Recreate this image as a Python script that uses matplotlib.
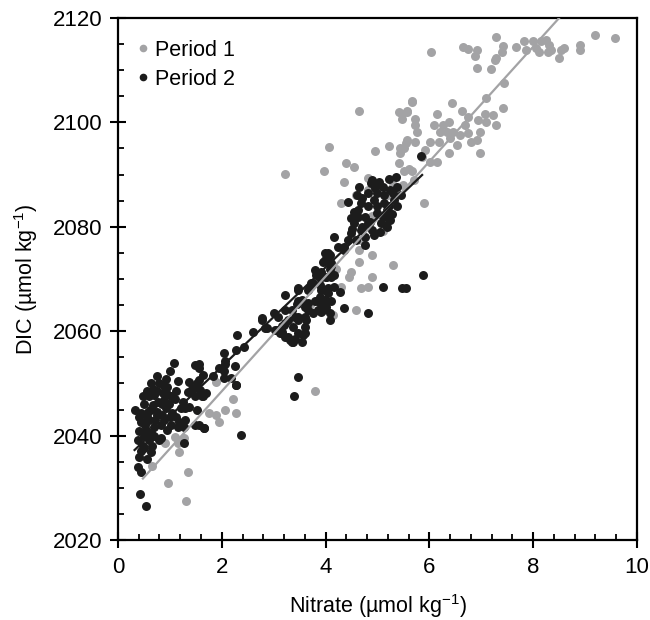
import matplotlib.pyplot as plt
from matplotlib.lines import Line2D
from matplotlib.ticker import MultipleLocator

plt.rcParams['font.family'] = ['Liberation Sans', 'DejaVu Sans']
plt.rcParams['mathtext.default'] = 'regular'

# Period 1 (grey) points: (nitrate, DIC)
period1 = [
    (6.04, 2113.5), (6.65, 2114.5), (6.75, 2114.1), (6.91, 2113.9), (6.88, 2112.8), (7.28, 2116.3),
    (7.42, 2114.7), (7.39, 2113.5), (7.29, 2112.3), (7.26, 2112.0), (6.91, 2110.5), (7.19, 2110.2),
    (7.67, 2114.5), (7.83, 2115.6), (7.86, 2113.9), (7.99, 2115.5), (8.05, 2114.3), (8.15, 2115.5),
    (8.24, 2115.8), (8.31, 2114.8), (8.28, 2113.5), (8.12, 2113.5), (8.34, 2113.9), (8.49, 2112.3),
    (8.59, 2114.3), (8.53, 2113.9), (8.91, 2114.8), (8.91, 2113.9), (9.20, 2116.7), (9.58, 2116.1),
    (7.43, 2107.5), (7.10, 2104.6),
    (6.43, 2103.7), (6.62, 2102.1), (6.75, 2101.1), (7.07, 2101.7), (7.23, 2101.4), (7.42, 2102.7),
    (7.29, 2099.5), (7.10, 2100.1), (6.94, 2100.5), (6.97, 2098.2), (6.91, 2096.6), (6.97, 2094.1),
    (6.81, 2096.3), (6.69, 2099.5), (6.59, 2097.6), (6.53, 2095.7), (6.40, 2097.0), (6.34, 2098.2),
    (6.21, 2098.2), (6.15, 2101.7), (6.18, 2096.3), (6.08, 2099.5), (6.02, 2096.3), (6.27, 2099.5),
    (6.37, 2094.1), (6.15, 2092.5), (5.92, 2094.7), (5.86, 2093.4), (5.73, 2096.3), (5.73, 2099.5),
    (5.67, 2104.0), (5.57, 2102.1), (5.48, 2101.7), (5.76, 2098.2), (5.54, 2096.0), (5.44, 2095.1),
    (5.51, 2090.6), (5.67, 2090.6), (6.02, 2092.5), (6.75, 2098.0), (6.46, 2098.2), (6.37, 2100.1),
    (5.66, 2104.1), (4.65, 2102.1), (5.41, 2101.9), (5.57, 2101.9), (5.48, 2100.6), (5.73, 2100.6),
    (4.06, 2095.2), (4.96, 2094.6), (5.22, 2095.5), (5.57, 2096.6), (5.51, 2095.1), (5.44, 2094.1),
    (4.40, 2092.3), (4.54, 2091.4), (3.21, 2090.1), (3.97, 2090.7), (4.36, 2088.6), (5.41, 2092.3),
    (4.81, 2089.3), (4.59, 2086.1), (4.81, 2087.0), (5.70, 2089.0), (5.89, 2084.5),
    (4.94, 2087.7), (4.30, 2084.5), (5.10, 2079.1), (4.68, 2077.5), (4.65, 2075.6), (4.90, 2074.6),
    (4.65, 2073.3), (5.29, 2072.7), (4.49, 2071.4), (4.46, 2070.4), (4.90, 2070.4), (4.30, 2068.5),
    (4.68, 2068.2), (4.81, 2068.5), (4.59, 2064.1), (4.14, 2063.1), (3.79, 2048.6),
    (1.88, 2050.3), (2.21, 2047.1), (1.76, 2044.3), (1.88, 2043.9), (1.95, 2042.7), (2.07, 2045.0),
    (2.28, 2044.4), (1.09, 2039.8), (1.15, 2038.5), (1.28, 2039.5), (1.18, 2036.9), (0.90, 2038.5),
    (0.66, 2034.2), (1.34, 2033.0), (0.96, 2030.9), (1.32, 2027.5),
    (4.90, 2082.0), (5.20, 2086.0), (5.30, 2088.0), (5.50, 2088.0), (5.60, 2091.0), (3.70, 2065.0),
    (3.30, 2062.0), (4.20, 2072.0),
]

# Period 2 (black) points: (nitrate, DIC)
period2 = [
    (1.08, 2054.0), (1.01, 2052.4), (0.76, 2051.4), (0.64, 2050.1), (0.80, 2050.0), (0.92, 2050.8),
    (0.95, 2049.4), (0.48, 2047.5), (0.60, 2047.5), (0.70, 2047.8), (0.86, 2048.1), (0.89, 2046.8),
    (1.02, 2047.5), (0.32, 2045.0), (0.45, 2044.3), (0.57, 2044.6), (0.67, 2045.9), (0.76, 2044.6),
    (0.92, 2045.2), (1.05, 2044.3), (1.21, 2045.2), (0.45, 2042.7), (0.60, 2043.0), (0.70, 2041.7),
    (0.89, 2043.0), (1.02, 2042.0), (1.18, 2042.7), (0.41, 2040.8), (0.54, 2041.1), (0.64, 2040.5),
    (0.83, 2039.5), (0.95, 2041.1), (1.15, 2041.7), (1.27, 2041.7), (0.38, 2039.2), (0.60, 2039.2),
    (0.80, 2039.2), (0.51, 2037.6), (0.64, 2036.9), (0.41, 2035.9), (0.38, 2034.0), (0.45, 2033.1),
    (0.43, 2028.9), (0.54, 2026.5),
    (0.50, 2046.0), (0.55, 2048.5), (0.62, 2045.0), (0.68, 2049.0), (0.72, 2043.0), (0.78, 2046.5),
    (0.82, 2042.0), (0.85, 2044.0), (0.88, 2049.5), (0.98, 2046.0), (1.00, 2043.5), (0.52, 2042.0),
    (0.48, 2038.0), (0.58, 2040.0), (0.70, 2040.0), (0.75, 2048.5), (0.95, 2048.0), (1.12, 2043.5),
    (1.12, 2048.5), (0.40, 2043.5), (0.44, 2037.0), (0.56, 2035.5),
    (1.34, 2048.4), (1.37, 2045.5), (1.30, 2045.2), (1.49, 2053.5), (1.56, 2052.9), (1.53, 2050.0),
    (1.59, 2048.7), (1.49, 2047.5), (1.62, 2047.5), (1.69, 2048.1), (1.37, 2050.3), (1.43, 2049.0),
    (1.84, 2051.4), (1.94, 2052.9), (2.04, 2052.3), (1.53, 2044.9), (1.49, 2042.0), (1.65, 2041.4),
    (1.27, 2038.5), (1.56, 2053.7), (1.63, 2051.6), (2.04, 2055.8), (2.07, 2054.2), (2.27, 2056.4),
    (2.25, 2053.3), (2.28, 2049.7), (2.42, 2057.0), (2.30, 2059.3), (2.61, 2059.9), (2.77, 2062.5),
    (2.84, 2060.6), (3.00, 2063.4), (3.03, 2060.3), (3.16, 2061.0), (1.56, 2042.0), (1.66, 2041.4),
    (2.37, 2040.2), (1.47, 2049.1), (1.56, 2050.6), (3.40, 2047.5), (3.47, 2051.3), (1.63, 2047.5),
    (2.07, 2053.8), (2.04, 2051.0), (2.17, 2051.0), (2.27, 2049.7),
    (1.10, 2047.0), (1.25, 2046.5), (1.15, 2050.5), (1.30, 2043.0), (1.20, 2042.5), (0.75, 2044.0),
    (0.85, 2046.0), (0.55, 2043.5), (0.50, 2040.0), (0.65, 2038.0),
    (2.77, 2062.1), (2.87, 2060.6), (3.06, 2060.2), (3.19, 2061.2), (3.22, 2066.9), (3.12, 2059.7),
    (3.22, 2058.9), (3.31, 2058.3), (3.41, 2058.6), (3.47, 2059.7), (3.28, 2062.1), (3.35, 2064.1),
    (3.44, 2065.3), (3.47, 2068.2), (3.54, 2066.0), (3.60, 2062.8), (3.66, 2064.1), (3.76, 2063.4),
    (3.79, 2065.7), (3.85, 2064.1), (3.92, 2065.7), (4.01, 2064.7), (3.66, 2067.9), (3.76, 2069.2),
    (3.82, 2070.8), (3.89, 2068.9), (3.98, 2067.9), (3.47, 2062.1), (3.41, 2062.8), (3.28, 2058.9),
    (3.38, 2058.0), (3.54, 2058.0), (3.60, 2059.7),
    (5.84, 2093.6), (4.43, 2084.8), (4.65, 2087.7), (5.03, 2088.6), (5.22, 2089.1), (5.38, 2087.7),
    (4.81, 2086.4), (4.94, 2085.1), (5.13, 2086.1), (5.32, 2085.1), (5.38, 2083.9), (5.19, 2083.2),
    (4.62, 2083.2), (4.75, 2081.9), (5.00, 2082.6), (5.25, 2081.3), (4.55, 2080.7), (4.81, 2080.7),
    (5.06, 2080.7), (4.68, 2079.4), (4.90, 2079.4), (5.19, 2080.0), (4.49, 2078.8), (4.75, 2078.1),
    (4.94, 2078.4), (4.43, 2077.5), (4.58, 2077.5), (4.24, 2076.2), (4.36, 2075.6), (4.17, 2078.1),
    (5.16, 2080.4), (5.10, 2087.7), (4.87, 2088.4), (5.25, 2087.0), (5.13, 2084.5), (5.00, 2083.9),
    (4.81, 2083.9), (4.68, 2084.5), (4.55, 2082.9), (4.49, 2081.6), (4.62, 2081.9), (5.23, 2083.9),
    (5.10, 2081.9),
    (4.70, 2085.5), (4.85, 2081.0), (5.00, 2086.5), (5.15, 2082.0), (5.30, 2086.5), (4.95, 2087.5),
    (4.70, 2080.0), (5.05, 2079.0), (5.28, 2082.5), (4.60, 2086.0), (4.75, 2076.5), (4.50, 2079.5),
    (4.90, 2089.0), (5.35, 2089.5), (5.45, 2086.0),
    (3.98, 2074.9), (4.08, 2074.6), (3.95, 2073.3), (4.11, 2073.0), (4.08, 2072.0), (3.92, 2071.4),
    (4.01, 2070.4), (4.17, 2070.8), (4.05, 2068.2), (4.17, 2068.5), (3.89, 2066.6), (4.05, 2067.3),
    (3.92, 2065.3), (4.11, 2065.7), (3.95, 2064.1), (4.08, 2063.4), (4.36, 2064.4), (4.81, 2063.5),
    (5.10, 2068.5), (5.48, 2068.2), (5.54, 2068.2), (5.88, 2070.8), (4.27, 2067.6),
    (4.08, 2062.1), (3.63, 2062.1), (3.92, 2063.6), (3.16, 2059.9), (3.35, 2058.0), (3.56, 2059.3),
    (3.38, 2060.9), (3.22, 2061.5), (3.47, 2062.8), (3.60, 2060.9),
    (4.36, 2076.2), (3.98, 2073.6), (4.05, 2074.9), (4.11, 2072.4), (3.79, 2071.7), (3.89, 2070.1),
    (3.72, 2069.2), (4.01, 2070.4), (4.11, 2070.4), (3.47, 2067.9), (3.70, 2068.5), (3.92, 2067.9),
    (3.98, 2066.0), (3.85, 2065.7), (3.66, 2065.4), (3.47, 2065.7), (3.60, 2064.7), (3.22, 2064.1),
    (3.09, 2062.8),
]

# regression lines: slope, intercept, x start, x end
fit1 = (11.0, 2026.5, 0.48, 8.8)
fit2 = (9.51, 2034.2, 0.32, 5.86)

grey = '#a3a3a5'
black = '#1c1c1c'

fig = plt.figure(figsize=(6.5, 6.2), dpi=100)
ax = fig.add_axes([0.1815, 0.129, 0.7985, 0.842])

x1, y1 = zip(*period1)
x2, y2 = zip(*period2)
ax.scatter(x1, y1, s=42, color=grey, linewidths=0, zorder=2)
ax.scatter(x2, y2, s=42, color=black, linewidths=0, zorder=3)

for (m, b, xa, xb), c in [(fit1, grey), (fit2, black)]:
    ax.plot([xa, xb], [m * xa + b, m * xb + b], color=c, lw=1.6, zorder=4)

ax.set_xlim(0, 10)
ax.set_ylim(2020, 2120)
ax.xaxis.set_major_locator(MultipleLocator(2))
ax.xaxis.set_minor_locator(MultipleLocator(0.4))
ax.yaxis.set_major_locator(MultipleLocator(20))
ax.yaxis.set_minor_locator(MultipleLocator(5))
ax.tick_params(which='major', direction='inout', length=11, width=1.5, labelsize=16, pad=6)
ax.tick_params(which='minor', direction='in', length=4.5, width=1.3)
ax.tick_params(axis='x', which='major', pad=7)
for sp in ax.spines.values():
    sp.set_linewidth(1.6)

ax.set_xlabel('Nitrate (µmol kg$^{-1}$)', fontsize=15.5, labelpad=10)
ax.set_ylabel('DIC (µmol kg$^{-1}$)', fontsize=15.5, labelpad=9)

handles = [
    Line2D([], [], ls='none', marker='o', ms=5.5, color=grey, mec='none', label='Period 1'),
    Line2D([], [], ls='none', marker='o', ms=5.5, color=black, mec='none', label='Period 2'),
]
ax.legend(handles=handles, loc='upper left', frameon=False, fontsize=15.5,
          handlelength=0.3, handletextpad=0.4, labelspacing=0.38, borderaxespad=0.6,
          borderpad=0.4)

fig.savefig('out.png', dpi=100)
